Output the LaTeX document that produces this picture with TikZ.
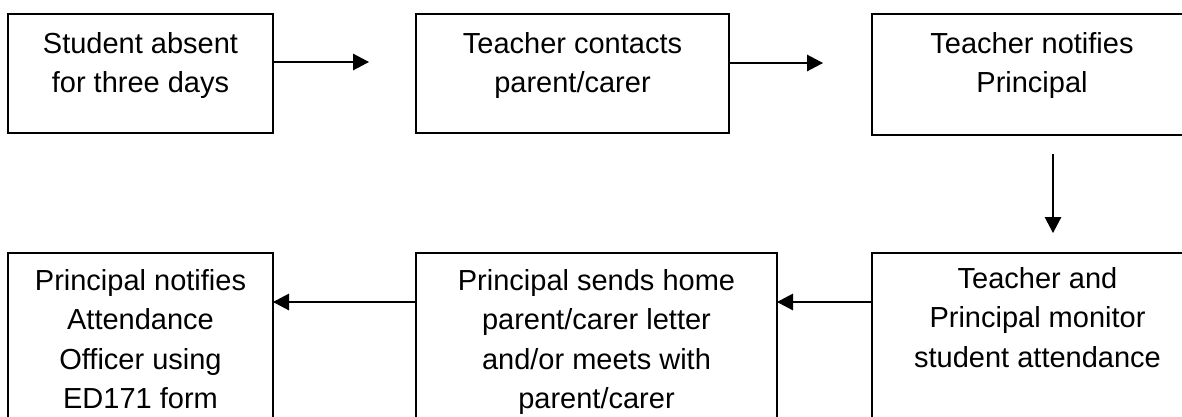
\documentclass[tikz,border=0pt]{standalone}
\usepackage{fontspec}
\setmainfont{Liberation Sans}
\usetikzlibrary{arrows.meta}
\begin{document}
\begin{tikzpicture}[x=1pt,y=-1pt,
 box/.style={draw, line width=1.3pt, rectangle, anchor=north west, inner sep=0pt, outer sep=0pt},
 lbl/.style={anchor=north, align=center, inner sep=0pt, font=\fontsize{29}{39.5}\selectfont},
 arr/.style={line width=1.3pt, -{Triangle[length=16pt,width=16.5pt]}}]
\begin{scope}
\clip (0,0) rectangle (1182,416);
% top row
\node[box, minimum width=265pt, minimum height=119pt] (b1) at (8,14) {};
\node[box, minimum width=313pt, minimum height=119pt] (b2) at (416,14) {};
\node[box, minimum width=320pt, minimum height=121pt] (b3) at (872,14) {};
% bottom row
\node[box, minimum width=265pt, minimum height=220pt] (b4) at (8,253) {};
\node[box, minimum width=361pt, minimum height=220pt] (b5) at (416,253) {};
\node[box, minimum width=331pt, minimum height=220pt] (b6) at (872,253) {};
% texts
\node[lbl] (t1) at ([yshift=-11.35pt]b1.north) {\strut Student absent\\for three days};
\node[lbl] (t2) at ([yshift=-11.35pt]b2.north) {\strut Teacher contacts\\parent/carer};
\node[lbl] (t3) at ([yshift=-11.35pt]b3.north) {\strut Teacher notifies\\Principal};
\node[lbl] (t4) at ([yshift=-9.35pt]b4.north) {\strut Principal notifies\\Attendance\\Officer using\\ED171 form};
\node[lbl] (t5) at ([yshift=-9.35pt]b5.north) {\strut Principal sends home\\parent/carer letter\\and/or meets with\\parent/carer};
\node[lbl] (t6) at ([yshift=-7.35pt]b6.north) {\strut Teacher and\\Principal monitor\\student attendance};
% connectors
\coordinate (e1) at (369,62);
\coordinate (e2) at (823,63);
\coordinate (s3) at (1053,154);
\coordinate (e3) at (1053,233);
\coordinate (y4) at (0,302);
\draw[arr] (b1.east |- e1) -- (e1);
\draw[arr] (b2.east |- e2) -- (e2);
\draw[arr] (s3) -- (e3);
\draw[arr] (b6.west |- y4) -- (b5.east |- y4);
\draw[arr] (b5.west |- y4) -- (b4.east |- y4);
\end{scope}
\pgfresetboundingbox
\useasboundingbox (0,0) rectangle (1182,416);
\end{tikzpicture}
\end{document}
